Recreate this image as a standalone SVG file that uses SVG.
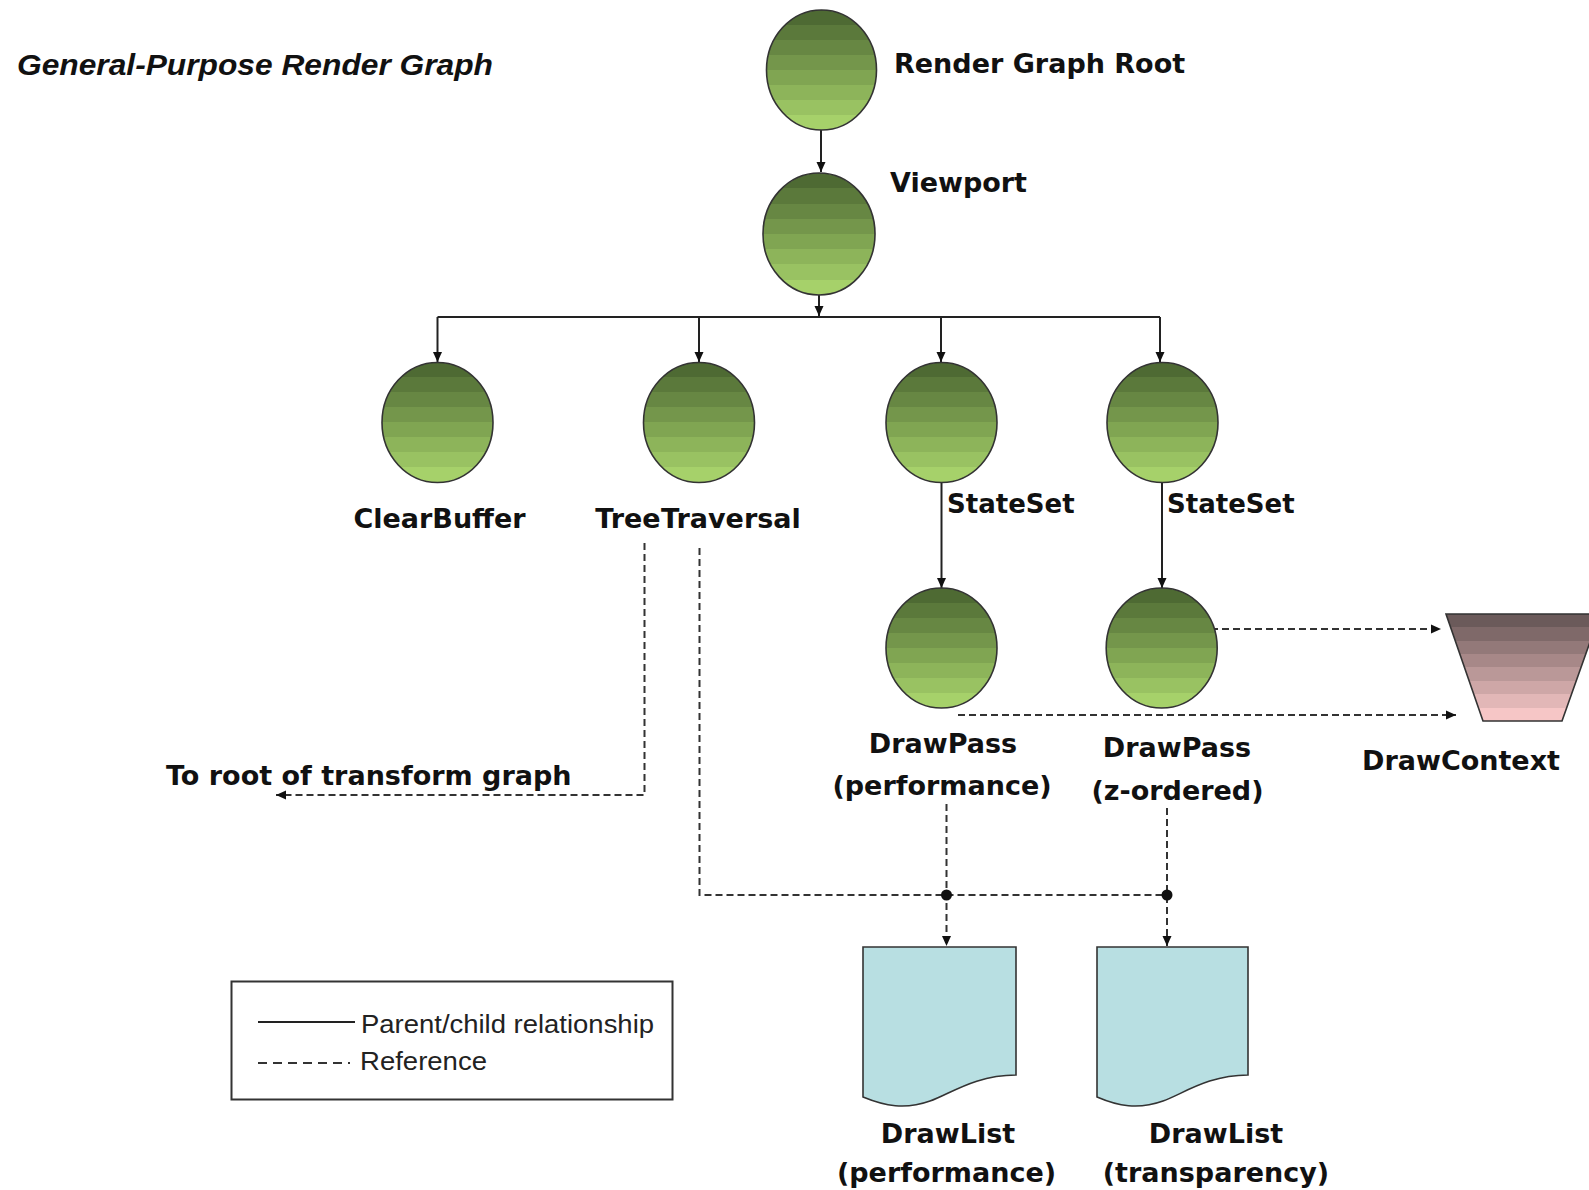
<svg xmlns="http://www.w3.org/2000/svg" width="1589" height="1190" viewBox="0 0 1589 1190">
<style>
.lbl{font-family:"DejaVu Sans",Verdana,sans-serif;font-weight:bold;font-size:27px;fill:#111}
.ss{font-size:26px;word-spacing:-9px}
.mid{text-anchor:middle}
.node{stroke:#333;stroke-width:1.6}
.solid{fill:none;stroke:#222;stroke-width:2}
.dash{fill:none;stroke:#333;stroke-width:2;stroke-dasharray:7 4}
.leg{font-family:"Liberation Sans",Arial,sans-serif;font-size:25px;fill:#222}
</style>
<defs>
<linearGradient id="gGreen" x1="0" y1="0" x2="0" y2="1">
<stop offset="0" stop-color="#4e6a33"/><stop offset="0.125" stop-color="#4e6a33"/>
<stop offset="0.125" stop-color="#5b793b"/><stop offset="0.25" stop-color="#5b793b"/>
<stop offset="0.25" stop-color="#678743"/><stop offset="0.375" stop-color="#678743"/>
<stop offset="0.375" stop-color="#74964b"/><stop offset="0.5" stop-color="#74964b"/>
<stop offset="0.5" stop-color="#80a552"/><stop offset="0.625" stop-color="#80a552"/>
<stop offset="0.625" stop-color="#8db45a"/><stop offset="0.75" stop-color="#8db45a"/>
<stop offset="0.75" stop-color="#99c262"/><stop offset="0.875" stop-color="#99c262"/>
<stop offset="0.875" stop-color="#a6d16a"/><stop offset="1" stop-color="#a6d16a"/>
</linearGradient>
<linearGradient id="gPink" x1="0" y1="0" x2="0" y2="1">
<stop offset="0" stop-color="#6b5a5a"/><stop offset="0.125" stop-color="#6b5a5a"/>
<stop offset="0.125" stop-color="#7f6969"/><stop offset="0.25" stop-color="#7f6969"/>
<stop offset="0.25" stop-color="#937979"/><stop offset="0.375" stop-color="#937979"/>
<stop offset="0.375" stop-color="#a78888"/><stop offset="0.5" stop-color="#a78888"/>
<stop offset="0.5" stop-color="#ba9898"/><stop offset="0.625" stop-color="#ba9898"/>
<stop offset="0.625" stop-color="#cea7a7"/><stop offset="0.75" stop-color="#cea7a7"/>
<stop offset="0.75" stop-color="#e2b7b7"/><stop offset="0.875" stop-color="#e2b7b7"/>
<stop offset="0.875" stop-color="#f6c6c6"/><stop offset="1" stop-color="#f6c6c6"/>
</linearGradient>
<marker id="arr" markerUnits="userSpaceOnUse" markerWidth="10" markerHeight="10" refX="10" refY="5" orient="auto">
<path d="M0,0.5 L10,5 L0,9.5 z" fill="#111"/>
</marker>
</defs>
<rect width="1589" height="1190" fill="#fff"/>

<text x="17" y="75" font-family="Liberation Sans, Arial, sans-serif" font-weight="bold" font-style="italic" font-size="30" fill="#111" textLength="476" lengthAdjust="spacingAndGlyphs">General-Purpose Render Graph</text>

<g id="connectors">
<path class="solid" d="M821,130 V172" marker-end="url(#arr)"/>
<path class="solid" d="M819,295 V316" marker-end="url(#arr)"/>
<path class="solid" d="M437.5,317 H1160"/>
<path class="solid" d="M437.5,317 V362" marker-end="url(#arr)"/>
<path class="solid" d="M699,317 V362" marker-end="url(#arr)"/>
<path class="solid" d="M941,317 V362" marker-end="url(#arr)"/>
<path class="solid" d="M1160,317 V362" marker-end="url(#arr)"/>
<path class="solid" d="M941.5,482.5 V588" marker-end="url(#arr)"/>
<path class="solid" d="M1162,482.5 V588" marker-end="url(#arr)"/>
<path class="dash" d="M644.5,543 V795 H276" marker-end="url(#arr)"/>
<path class="dash" d="M699.5,548 V895 H1167"/>
<path class="dash" d="M946.5,804 V946" marker-end="url(#arr)"/>
<path class="dash" d="M1167,808 V946" marker-end="url(#arr)"/>
<circle cx="946.5" cy="895" r="5.5" fill="#111"/>
<circle cx="1167" cy="895" r="5.5" fill="#111"/>
<path class="dash" d="M1211,629 H1441" marker-end="url(#arr)"/>
<path class="dash" d="M958,715 H1456" marker-end="url(#arr)"/>
<text class="lbl" x="166" y="785">To root of transform graph</text>
</g>

<g id="root">
<ellipse class="node" cx="821.5" cy="70" rx="55" ry="60" fill="url(#gGreen)"/>
<text class="lbl" x="894" y="73">Render Graph Root</text>
</g>
<g id="viewport">
<ellipse class="node" cx="819" cy="234" rx="56" ry="61" fill="url(#gGreen)"/>
<text class="lbl" x="890" y="192">Viewport</text>
</g>
<g id="clearbuffer">
<ellipse class="node" cx="437.5" cy="422.5" rx="55.5" ry="60" fill="url(#gGreen)"/>
<text class="lbl mid" x="439.5" y="528">ClearBuffer</text>
</g>
<g id="treetraversal">
<ellipse class="node" cx="699" cy="422.5" rx="55.5" ry="60" fill="url(#gGreen)"/>
<text class="lbl mid" x="698" y="528" style="word-spacing:-9px">Tree Traversal</text>
</g>
<g id="stateset1">
<ellipse class="node" cx="941.5" cy="422.5" rx="55.5" ry="60" fill="url(#gGreen)"/>
<text class="lbl ss" x="947" y="513">State Set</text>
</g>
<g id="stateset2">
<ellipse class="node" cx="1162.5" cy="422.5" rx="55.5" ry="60" fill="url(#gGreen)"/>
<text class="lbl ss" x="1167" y="513">State Set</text>
</g>
<g id="drawpass-performance">
<ellipse class="node" cx="941.5" cy="648" rx="55.5" ry="60" fill="url(#gGreen)"/>
<text class="lbl mid" x="943" y="753">DrawPass</text>
<text class="lbl mid" x="942" y="795">(performance)</text>
</g>
<g id="drawpass-zordered">
<ellipse class="node" cx="1161.7" cy="648" rx="55.5" ry="60" fill="url(#gGreen)"/>
<text class="lbl mid" x="1177" y="757">DrawPass</text>
<text class="lbl mid" x="1177.5" y="800">(z-ordered)</text>
</g>
<g id="drawcontext">
<polygon class="node" points="1446,614 1600,614 1562,721 1483,721" fill="url(#gPink)"/>
<text class="lbl mid" x="1461" y="770">DrawContext</text>
</g>
<g id="drawlist-performance">
<path class="node" d="M863,947 H1016 V1075 C975,1075 950,1094 930,1101 C905,1110 885,1106 863,1097 Z" fill="#b8dfe2"/>
<text class="lbl mid" x="948" y="1143">DrawList</text>
<text class="lbl mid" x="946.5" y="1182">(performance)</text>
</g>
<g id="drawlist-transparency">
<path class="node" d="M1097,947 H1248 V1075 C1208,1075 1183,1094 1163,1101 C1138,1110 1118,1106 1097,1097 Z" fill="#b8dfe2"/>
<text class="lbl mid" x="1216" y="1143">DrawList</text>
<text class="lbl mid" x="1216" y="1182">(transparency)</text>
</g>
<g id="legend">
<rect x="231.5" y="981.5" width="441" height="118" fill="none" stroke="#333" stroke-width="2"/>
<line x1="258" y1="1022" x2="355" y2="1022" stroke="#222" stroke-width="2"/>
<text class="leg" x="361" y="1033" textLength="293" lengthAdjust="spacingAndGlyphs">Parent/child relationship</text>
<line x1="258" y1="1063" x2="350" y2="1063" stroke="#333" stroke-width="2" stroke-dasharray="9 6"/>
<text class="leg" x="360" y="1070" textLength="127" lengthAdjust="spacingAndGlyphs">Reference</text>
</g>
</svg>
